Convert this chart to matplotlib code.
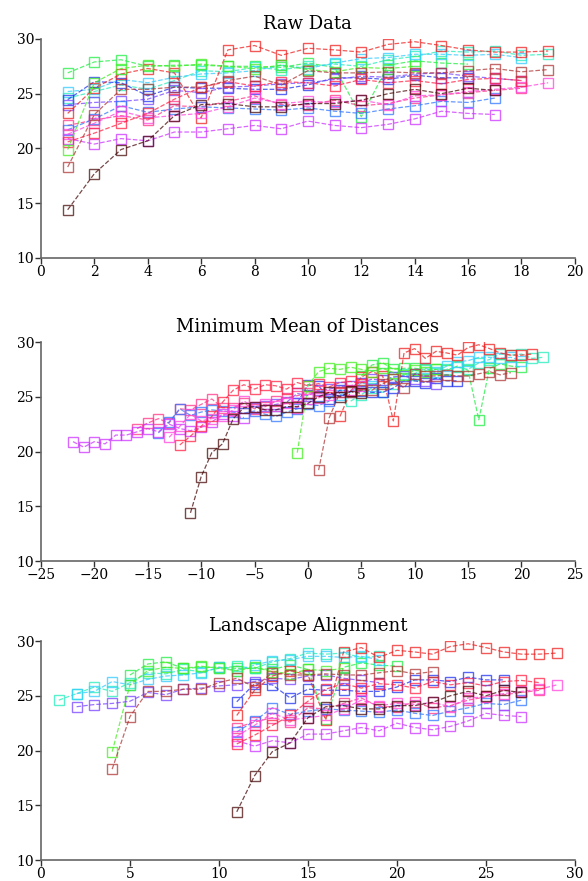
import matplotlib
matplotlib.use("Agg")
import matplotlib.pyplot as plt

# raw series values (x = 1..n in the raw panel)
green_a = [26.9, 27.9, 28.1, 27.5, 27.6, 27.6, 27.5, 27.5, 27.4, 27.8, 27.4, 22.9, 27.6, 28.0, 27.8, 27.7]
teal = [24.6, 25.2, 25.8, 25.4, 26.2, 27.1, 27.0, 27.4, 27.2, 27.5, 27.7, 27.5, 28.1, 28.4, 28.9, 28.8, 28.9, 28.5, 28.6]
cyan = [25.2, 25.4, 26.3, 26.0, 26.5, 26.8, 26.9, 27.1, 27.6, 27.3, 27.8, 28.2, 28.3, 28.6, 28.6, 28.5, 28.6, 28.3]
blue_dark = [24.45, 26.1, 26.0, 24.8, 25.6, 25.5, 25.5, 25.4, 25.4, 25.8, 26.45, 26.45, 26.3, 26.7, 26.45, 26.45]
purple = [24.0, 24.2, 24.3, 24.5, 25.3, 25.1, 25.6, 25.7, 25.9, 26.0, 26.3, 26.6, 26.5, 26.8, 26.9, 26.6, 26.4, 26.2]
red_top = [23.2, 25.5, 26.8, 27.3, 26.9, 22.8, 29.0, 29.4, 28.5, 29.15, 29.0, 28.8, 29.5, 29.75, 29.4, 29.0, 28.8, 28.8, 28.9]
pink = [22.1, 22.6, 23.0, 22.6, 23.9, 23.8, 24.3, 24.8, 24.0, 24.0, 24.4, 23.9, 24.1, 24.6, 24.9, 25.1, 25.3, 25.5]
blue_light = [21.7, 22.7, 23.9, 23.3, 23.6, 23.8, 23.7, 23.6, 23.5, 23.7, 23.4, 23.2, 23.6, 23.9, 24.3, 24.2, 24.6]
violet = [20.9, 20.4, 20.9, 20.7, 21.5, 21.5, 21.8, 22.1, 21.8, 22.5, 22.1, 21.9, 22.2, 22.7, 23.4, 23.2, 23.1]
magenta = [21.3, 22.3, 23.4, 22.8, 23.0, 23.2, 23.8, 24.6, 24.1, 24.3, 24.2, 24.4, 24.0, 24.8, 24.9, 25.2, 25.4, 25.6, 26.0]
red_low = [20.6, 21.4, 22.3, 23.2, 24.5, 25.6, 26.1, 25.7, 26.1, 26.0, 25.7, 26.3, 26.0, 26.2, 25.9, 26.3, 26.4, 26.2]
green_b = [19.9, 26.0, 27.3, 27.6, 27.5, 27.7, 27.5, 27.3, 27.6, 27.2, 27.0, 27.4, 27.3, 27.5]
rosy_brown = [18.3, 23.1, 25.4, 25.4, 25.6, 25.6, 26.2, 26.6, 25.8, 27.1, 26.9, 26.9, 27.0, 26.9, 26.9, 27.1, 27.3, 27.0, 27.2]
dark_brown = [14.4, 17.7, 19.9, 20.7, 23.0, 24.0, 24.1, 23.8, 23.8, 24.1, 24.1, 24.4, 25.0, 25.4, 25.0, 25.5, 25.3]

series = [green_a, teal, cyan, blue_dark, purple, red_top, pink, blue_light,
          violet, magenta, red_low, green_b, rosy_brown, dark_brown]
colors = ["#22ee44", "#22eebb", "#33ccff", "#2233ee", "#7744ff", "#ee2222", "#ff3388",
          "#3377ff", "#cc33ff", "#ff44dd", "#ff2244", "#44ee22", "#b03838", "#4a0c0c"]
# shifts of each series in the two aligned panels
shift_mean = [4, 3, 2, -2, -6, 2, -17, -15, -23, -14, -13, -2, 0, -12]
shift_land = [4, 0, 1, 10, 1, 10, 10, 10, 10, 10, 10, 3, 3, 10]

titles = ["Raw Data", "Minimum Mean of Distances", "Landscape Alignment"]
xlims = [(0, 20), (-25, 25), (0, 30)]
xticks = [range(0, 21, 2), range(-25, 26, 5), range(0, 31, 5)]

fig = plt.figure(figsize=(5.88, 8.81), dpi=100)
boxes = [[0.0697, 0.7072, 0.908, 0.2486],
         [0.0697, 0.3632, 0.908, 0.2486],
         [0.0697, 0.0238, 0.908, 0.2486]]

for k in range(3):
    ax = fig.add_axes(boxes[k])
    for i, ys in enumerate(series):
        if k == 0:
            off = 0
        elif k == 1:
            off = shift_mean[i]
        else:
            off = shift_land[i]
        xs = [j + 1 + off for j in range(len(ys))]
        ax.plot(xs, ys, linestyle="--", linewidth=0.9, color=colors[i], alpha=0.75,
                marker="s", markersize=6.5, markerfacecolor="none",
                markeredgewidth=1.0)
    ax.set_xlim(*xlims[k])
    ax.set_ylim(10, 30)
    ax.set_xticks(list(xticks[k]))
    ax.set_yticks([10, 15, 20, 25, 30])
    for s in ["top", "right"]:
        ax.spines[s].set_visible(False)
    for s in ["left", "bottom"]:
        ax.spines[s].set_color("#666666")
        ax.spines[s].set_linewidth(1.2)
    ax.tick_params(direction="out", length=4, width=1, colors="#333333",
                   labelsize=10, pad=1)
    for lab in ax.get_xticklabels() + ax.get_yticklabels():
        lab.set_fontfamily("DejaVu Serif")
        lab.set_color("black")
    ax.set_title(titles[k], fontsize=13, family="DejaVu Serif", pad=7)

fig.savefig("out.png", dpi=100)
